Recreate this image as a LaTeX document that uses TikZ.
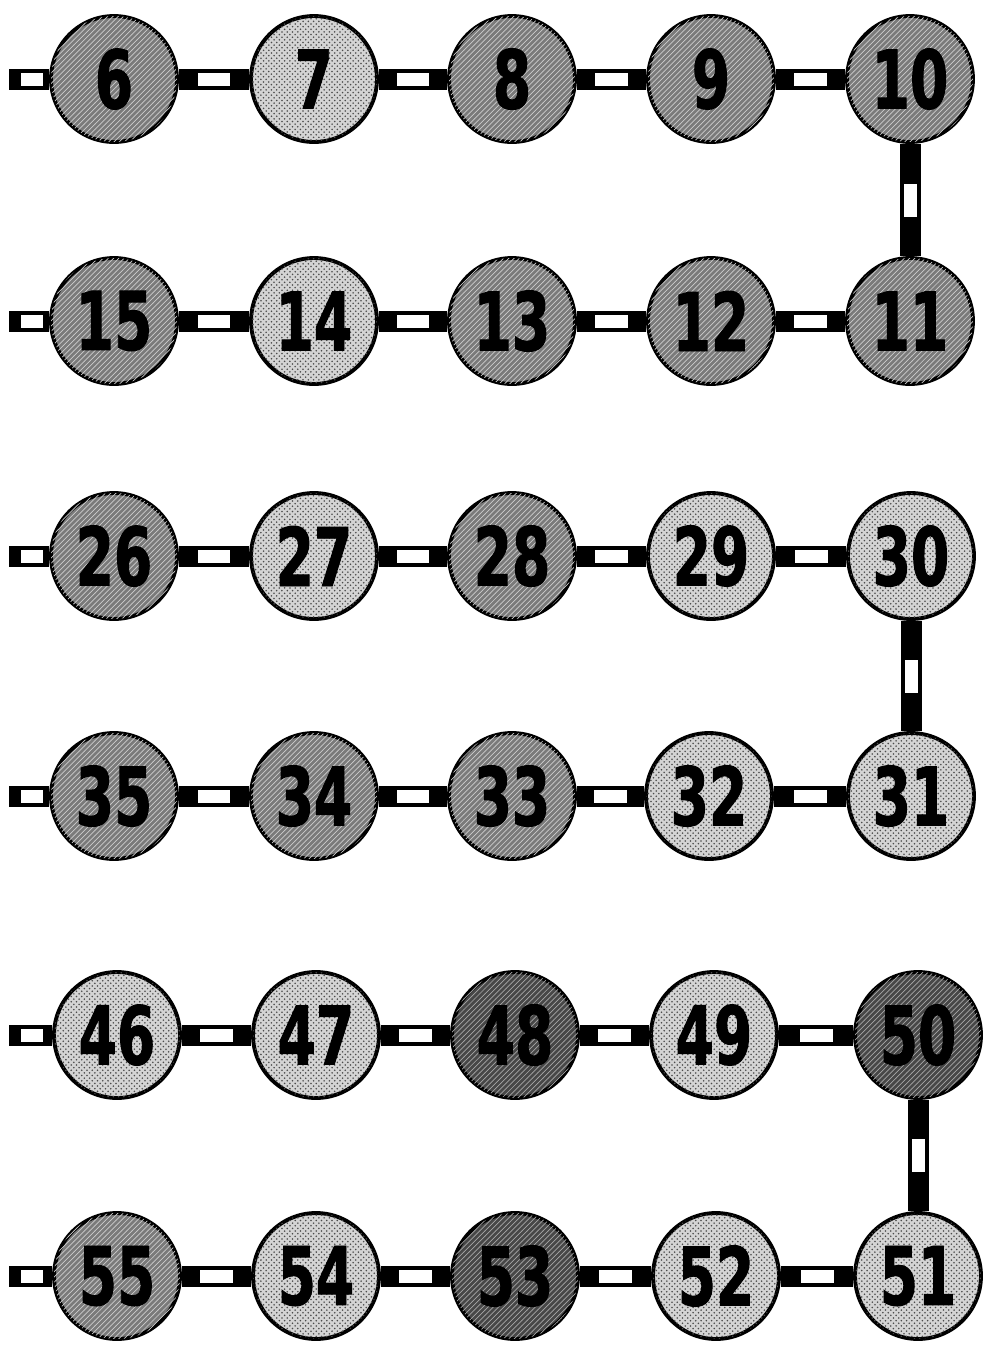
\documentclass[tikz,border=0pt]{standalone}
\usepackage{fontspec}
\newfontfamily\numfont[FakeStretch=0.68, FakeBold=1.2]{DejaVu Sans}
\usetikzlibrary{patterns}

\begin{document}
\begin{tikzpicture}[x=0.02cm, y=-0.02cm,
        disc/.style={circle, draw=black, line width=2.2pt, minimum size=2.52cm, inner sep=0pt, text=black, font=\numfont\bfseries\fontsize{46}{46}\selectfont},
        darkc/.style={disc, fill=black!52, postaction={pattern=north east lines, pattern color=white!80!black}},
        deepc/.style={disc, fill=black!72, postaction={pattern=north east lines, pattern color=black!35}},
        lightc/.style={disc, fill=black!17, postaction={pattern=crosshatch dots, pattern color=black!70}},
        link/.style={draw=black, line width=0.42cm},
        gapbox/.style={fill=white, inner sep=0pt, minimum width=0.66cm, minimum height=0.26cm, sloped},
        stubgap/.style={fill=white, inner sep=0pt, minimum width=0.44cm, minimum height=0.26cm, anchor=west, xshift=0.04cm}
    ]
        \useasboundingbox (0,0) rectangle (985,1347);
        \fill [white] (0,0) rectangle (985,1347);

        % Fila 1
        \coordinate (l1) at (9, 79);
        \node [darkc] (c6) at (114, 79) {6};
        \node [lightc] (c7) at (314, 79) {7};
        \node [darkc] (c8) at (512, 79) {8};
        \node [darkc] (c9) at (711, 79) {9};
        \node [darkc] (c10) at (910, 79) {10};

        % Fila 2
        \coordinate (l2) at (9, 321);
        \node [darkc] (c15) at (114, 321) {15};
        \node [lightc] (c14) at (314, 321) {14};
        \node [darkc] (c13) at (512, 321) {13};
        \node [darkc] (c12) at (711, 321) {12};
        \node [darkc] (c11) at (910, 321) {11};

        % Fila 3
        \coordinate (l3) at (9, 556);
        \node [darkc] (c26) at (114, 556) {26};
        \node [lightc] (c27) at (314, 556) {27};
        \node [darkc] (c28) at (512, 556) {28};
        \node [lightc] (c29) at (711, 556) {29};
        \node [lightc] (c30) at (911, 556) {30};

        % Fila 4
        \coordinate (l4) at (9, 796);
        \node [darkc] (c35) at (114, 796) {35};
        \node [darkc] (c34) at (314, 796) {34};
        \node [darkc] (c33) at (512, 796) {33};
        \node [lightc] (c32) at (709, 796) {32};
        \node [lightc] (c31) at (911, 796) {31};

        % Fila 5
        \coordinate (l5) at (9, 1035);
        \node [lightc] (c46) at (117, 1035) {46};
        \node [lightc] (c47) at (316, 1035) {47};
        \node [deepc] (c48) at (515, 1035) {48};
        \node [lightc] (c49) at (714, 1035) {49};
        \node [deepc] (c50) at (918, 1035) {50};

        % Fila 6
        \coordinate (l6) at (9, 1276);
        \node [darkc] (c55) at (117, 1276) {55};
        \node [lightc] (c54) at (316, 1276) {54};
        \node [deepc] (c53) at (515, 1276) {53};
        \node [lightc] (c52) at (716, 1276) {52};
        \node [lightc] (c51) at (918, 1276) {51};

        % Eslabones fila 1 y bajada
        \draw [link] (l1) -- node[pos=0, stubgap] {} (c6);
        \draw [link] (c6) -- node[gapbox] {} (c7);
        \draw [link] (c7) -- node[gapbox] {} (c8);
        \draw [link] (c8) -- node[gapbox] {} (c9);
        \draw [link] (c9) -- node[gapbox] {} (c10);
        \draw [link] (c10) -- node[gapbox] {} (c11);

        % Eslabones fila 2
        \draw [link] (c11) -- node[gapbox] {} (c12);
        \draw [link] (c12) -- node[gapbox] {} (c13);
        \draw [link] (c13) -- node[gapbox] {} (c14);
        \draw [link] (c14) -- node[gapbox] {} (c15);
        \draw [link] (l2) -- node[pos=0, stubgap] {} (c15);

        % Eslabones fila 3 y bajada
        \draw [link] (l3) -- node[pos=0, stubgap] {} (c26);
        \draw [link] (c26) -- node[gapbox] {} (c27);
        \draw [link] (c27) -- node[gapbox] {} (c28);
        \draw [link] (c28) -- node[gapbox] {} (c29);
        \draw [link] (c29) -- node[gapbox] {} (c30);
        \draw [link] (c30) -- node[gapbox] {} (c31);

        % Eslabones fila 4
        \draw [link] (c31) -- node[gapbox] {} (c32);
        \draw [link] (c32) -- node[gapbox] {} (c33);
        \draw [link] (c33) -- node[gapbox] {} (c34);
        \draw [link] (c34) -- node[gapbox] {} (c35);
        \draw [link] (l4) -- node[pos=0, stubgap] {} (c35);

        % Eslabones fila 5 y bajada
        \draw [link] (l5) -- node[pos=0, stubgap] {} (c46);
        \draw [link] (c46) -- node[gapbox] {} (c47);
        \draw [link] (c47) -- node[gapbox] {} (c48);
        \draw [link] (c48) -- node[gapbox] {} (c49);
        \draw [link] (c49) -- node[gapbox] {} (c50);
        \draw [link] (c50) -- node[gapbox] {} (c51);

        % Eslabones fila 6
        \draw [link] (c51) -- node[gapbox] {} (c52);
        \draw [link] (c52) -- node[gapbox] {} (c53);
        \draw [link] (c53) -- node[gapbox] {} (c54);
        \draw [link] (c54) -- node[gapbox] {} (c55);
        \draw [link] (l6) -- node[pos=0, stubgap] {} (c55);
    \end{tikzpicture}
\end{document}
